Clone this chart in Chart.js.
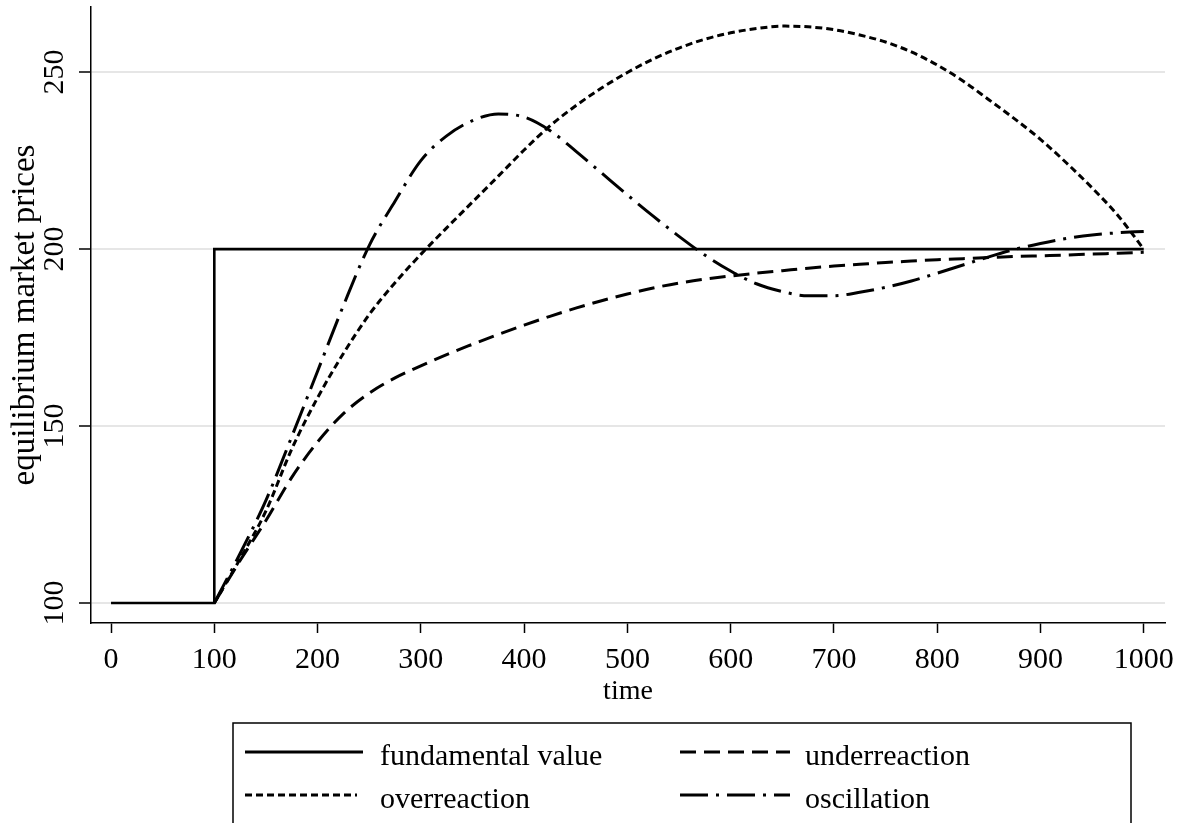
<!DOCTYPE html>
<html>
<head>
<meta charset="utf-8">
<script src="https://cdn.jsdelivr.net/npm/chart.js@4/dist/chart.umd.min.js"></script>
<style>
  body { margin: 0; background: #fff; }
  canvas { display: block; }
</style>
</head>
<body>
<canvas id="priceChart" width="1186" height="823"></canvas>
<script>
// data
// before t=100 every path sits at 100 under the fundamental line
var fundTimes = [0, 100, 100, 1000];
var fundamental = [100, 100, 200, 200];

var times = [100, 125, 150, 175, 200, 225, 250, 275, 300, 325, 350, 375, 400, 425, 450, 475, 500, 525,
  550, 575, 600, 625, 650, 675, 700, 725, 750, 775, 800, 825, 850, 875, 900, 925, 950, 975, 1000];

var underreaction = [100, 112, 123.3, 135.5, 145.5, 153.5, 159.3, 163.6, 167, 170.2, 173.1, 175.9, 178.5,
  181, 183.3, 185.4, 187.3, 189, 190.4, 191.5, 192.4, 193.2, 193.9, 194.6, 195.2, 195.7, 196.2, 196.6,
  197, 197.3, 197.6, 197.9, 198.1, 198.3, 198.6, 198.8, 199.1];

var overreaction = [100, 112.5, 126, 143.5, 158, 170.5, 181.5, 190.5, 198.5, 206, 213.3, 220.6, 228,
  234.8, 240.5, 245.5, 249.9, 253.7, 256.8, 259.3, 261.1, 262.3, 263, 262.8, 262, 260.5, 258.5, 255.7,
  252, 247.5, 242.2, 236.8, 231, 224.4, 217.3, 209.5, 200];

var oscillation = [100, 114, 129, 147, 165.5, 184, 201, 213.5, 225, 232, 236.3, 238.2, 237.3,
  233.5, 227.7, 221.5, 215.3, 209.3, 203.6, 198.3, 193.8, 190.2, 188, 186.8, 186.8, 187.8, 189.2, 191,
  193.2, 195.5, 197.8, 199.9, 201.6, 203, 204, 204.6, 205];

var xTicks = [0, 100, 200, 300, 400, 500, 600, 700, 800, 900, 1000];
var yTicks = [100, 150, 200, 250];

var seriesNames = ["fundamental value", "underreaction", "overreaction", "oscillation"];

var SERIF = '"Liberation Serif", "Times New Roman", serif';
var dashUnder = [16, 8];
var dashOver = [7, 4];
var dashOsc = [28, 8, 3, 8];

function points(xs, ys) {
  return xs.map(function (x, i) { return { x: x, y: ys[i] }; });
}

// rotated y tick labels, stata style
var yLabelPlugin = {
  id: 'yLabels',
  afterDraw: function (chart) {
    var ctx = chart.ctx, sc = chart.scales.y;
    ctx.save();
    ctx.fillStyle = '#000';
    ctx.font = '30px ' + SERIF;
    ctx.textAlign = 'center';
    ctx.textBaseline = 'middle';
    yTicks.forEach(function (v) {
      var py = sc.getPixelForValue(v);
      ctx.save();
      ctx.translate(55, py);
      ctx.rotate(-Math.PI / 2);
      ctx.fillText(String(v), 0, 0);
      ctx.restore();
    });
    ctx.restore();
  }
};

// boxed legend below the plot
var legendPlugin = {
  id: 'boxLegend',
  afterDraw: function (chart) {
    var ctx = chart.ctx;
    ctx.save();
    ctx.strokeStyle = '#000';
    ctx.lineWidth = 1.5;
    ctx.strokeRect(233, 723, 898, 140);

    var items = [
      { name: seriesNames[0], dash: [], x: 245, w: 118, y: 752, tx: 380 },
      { name: seriesNames[1], dash: dashUnder, x: 680, w: 110, y: 752, tx: 805 },
      { name: seriesNames[2], dash: dashOver, x: 245, w: 112, y: 795, tx: 380 },
      { name: seriesNames[3], dash: dashOsc, x: 680, w: 110, y: 795, tx: 805 }
    ];
    ctx.font = '30px ' + SERIF;
    ctx.fillStyle = '#000';
    ctx.textBaseline = 'alphabetic';
    items.forEach(function (it) {
      ctx.setLineDash(it.dash);
      ctx.lineWidth = 3;
      ctx.beginPath();
      ctx.moveTo(it.x, it.y);
      ctx.lineTo(it.x + it.w, it.y);
      ctx.stroke();
      ctx.setLineDash([]);
      ctx.fillText(it.name, it.tx, it.y + 13);
    });
    ctx.restore();
  }
};

var lineBase = {
  borderColor: '#000',
  backgroundColor: '#000',
  borderWidth: 3,
  pointRadius: 0,
  showLine: true,
  fill: false
};

new Chart(document.getElementById('priceChart'), {
  type: 'scatter',
  data: {
    datasets: [
      Object.assign({}, lineBase, { label: seriesNames[0], data: points(fundTimes, fundamental), borderWidth: 2.6, tension: 0 }),
      Object.assign({}, lineBase, { label: seriesNames[1], data: points(times, underreaction), borderDash: dashUnder, cubicInterpolationMode: 'monotone' }),
      Object.assign({}, lineBase, { label: seriesNames[2], data: points(times, overreaction), borderDash: dashOver, cubicInterpolationMode: 'monotone' }),
      Object.assign({}, lineBase, { label: seriesNames[3], data: points(times, oscillation), borderDash: dashOsc, cubicInterpolationMode: 'monotone' })
    ]
  },
  options: {
    responsive: false,
    animation: false,
    layout: { padding: { left: 0, top: 7, right: 21, bottom: 115 } },
    plugins: {
      legend: { display: false },
      tooltip: { enabled: false }
    },
    scales: {
      x: {
        type: 'linear',
        min: -19.4,
        max: 1020.6,
        afterBuildTicks: function (sc) { sc.ticks = xTicks.map(function (v) { return { value: v }; }); },
        afterFit: function (sc) { sc.height = 85; },
        border: { color: '#000', width: 1.5 },
        grid: { drawOnChartArea: false, drawTicks: true, tickLength: 10, tickColor: '#000', tickWidth: 1.5 },
        ticks: {
          color: '#000', padding: 9, maxRotation: 0, font: { family: SERIF, size: 30 },
          callback: function (v) { return String(v); }
        },
        title: { display: true, text: 'time', color: '#000', padding: { top: 0, bottom: 2 }, font: { family: SERIF, size: 28, lineHeight: 1 } }
      },
      y: {
        type: 'linear',
        min: 94.35,
        max: 268.4,
        afterBuildTicks: function (sc) { sc.ticks = yTicks.map(function (v) { return { value: v }; }); },
        afterFit: function (sc) { sc.width = 91; },
        border: { color: '#000', width: 1.5 },
        grid: { color: '#e6e6e6', lineWidth: 2, drawTicks: true, tickLength: 12, tickColor: '#000', tickWidth: 1.5 },
        ticks: { display: false },
        title: { display: true, text: 'equilibrium market prices', color: '#000', padding: { top: 9, bottom: 0 }, font: { family: SERIF, size: 33, lineHeight: 1 } }
      }
    }
  },
  plugins: [yLabelPlugin, legendPlugin]
});
</script>
</body>
</html>
